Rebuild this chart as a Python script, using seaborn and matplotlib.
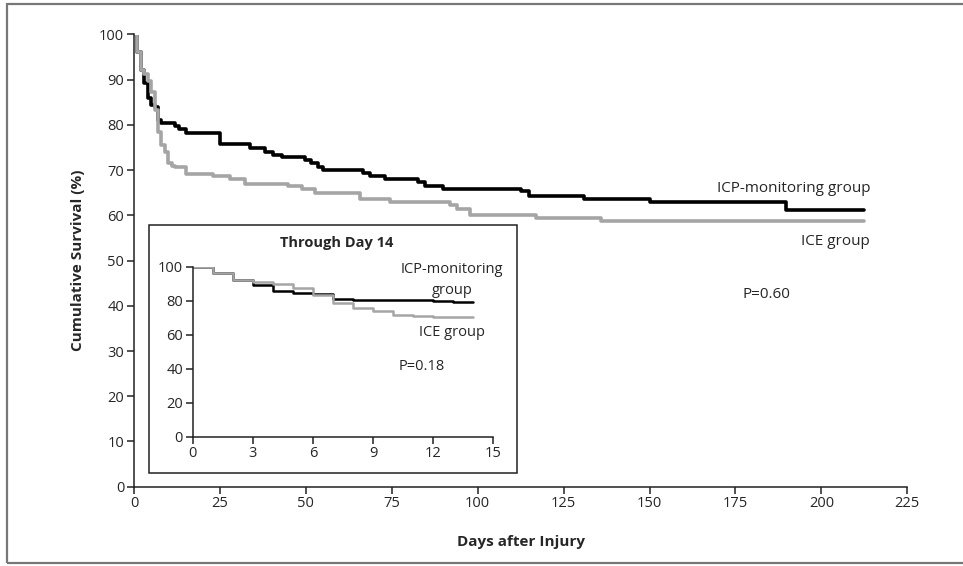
import matplotlib
matplotlib.use("Agg")
import matplotlib.pyplot as plt
from matplotlib.patches import Rectangle
import seaborn as sns
import pandas as pd

# ---- data ----
icp_days = [0, 1, 2, 3, 4, 5, 6, 7, 8, 12, 13, 15, 25, 33.7, 38, 40.5, 43, 49.7, 51.6,
            53.5, 55, 66.6, 68.6, 73, 82.6, 84.6, 90, 112.7, 115, 131, 150, 189.7, 212.5]
icp_surv = [100, 96.1, 92.2, 89.2, 85.9, 84.3, 83.9, 81.0, 80.4, 79.8, 79.2, 78.3, 75.8, 75.0,
            74.1, 73.4, 72.9, 72.3, 71.5, 70.8, 70.1, 69.3, 68.7, 68.0, 67.3, 66.6, 65.8, 65.3,
            64.3, 63.6, 62.9, 61.3, 61.3]
ice_days = [0, 1, 2, 3, 4, 5, 6, 7, 8, 9, 10, 11, 12, 15, 23, 28, 32.3, 44.8, 49, 52.6,
            65.7, 74.4, 91.9, 94, 97.7, 117, 136, 212.5]
ice_surv = [100, 96.1, 92.2, 91.2, 89.8, 87.3, 83.3, 78.4, 75.5, 74.1, 71.6, 71.0, 70.6,
            69.2, 68.6, 68.0, 66.9, 66.4, 65.8, 64.9, 63.6, 63.0, 62.2, 61.4, 60.1, 59.4,
            58.8, 58.8]
groups = ["ICP-monitoring group", "ICE group"]
main_xticks = [0, 25, 50, 75, 100, 125, 150, 175, 200, 225]
main_yticks = [0, 10, 20, 30, 40, 50, 60, 70, 80, 90, 100]
inset_xticks = [0, 3, 6, 9, 12, 15]
inset_yticks = [0, 20, 40, 60, 80, 100]
inset_end = 14

df = pd.concat([
    pd.DataFrame({"day": icp_days, "surv": icp_surv, "group": groups[0]}),
    pd.DataFrame({"day": ice_days, "surv": ice_surv, "group": groups[1]}),
], ignore_index=True)

def truncate(days, surv, end):
    d = [x for x in days if x <= end]
    s = surv[:len(d)]
    return d + [end], s + [s[-1]]

d1, s1 = truncate(icp_days, icp_surv, inset_end)
d2, s2 = truncate(ice_days, ice_surv, inset_end)
df_in = pd.concat([
    pd.DataFrame({"day": d1, "surv": s1, "group": groups[0]}),
    pd.DataFrame({"day": d2, "surv": s2, "group": groups[1]}),
], ignore_index=True)

sns.set_theme(style="white")
plt.rcParams["font.family"] = ["Open Sans", "DejaVu Sans"]
palette = {groups[0]: "#000000", groups[1]: "#a5a5a5"}

fig = plt.figure(figsize=(9.63, 5.66), dpi=100)
fig.patch.set_facecolor("white")

fx = lambda px: px / 963
fy = lambda py: (566 - py) / 566

# outer border
fig.patches.append(Rectangle((fx(7), fy(563)), 1.0, (563 - 4) / 566,
                             transform=fig.transFigure, fill=False,
                             edgecolor="#777777", linewidth=1.6, zorder=0))

ax = fig.add_axes([fx(134), fy(486.7), (907.3 - 134) / 963, (486.7 - 34.5) / 566])
ax.set_facecolor("none")
sns.lineplot(data=df, x="day", y="surv", hue="group", palette=palette, ax=ax,
             estimator=None, sort=False, drawstyle="steps-post", linewidth=2.6,
             legend=False, hue_order=groups)
ax.set_xlim(0, 225)
ax.set_ylim(0, 100)
ax.set_xticks(main_xticks)
ax.set_yticks(main_yticks)
for s in ["top", "right"]:
    ax.spines[s].set_visible(False)
for s in ["left", "bottom"]:
    ax.spines[s].set_color("#222222")
    ax.spines[s].set_linewidth(1.1)
ax.tick_params(direction="out", length=5, width=1.1, color="#222222",
               labelsize=10.5, pad=2, left=True, bottom=True)
ax.set_xlabel("Days after Injury", fontsize=11, fontweight="bold")
ax.set_ylabel("Cumulative Survival (%)", fontsize=11, fontweight="bold", labelpad=10)
ax.xaxis.set_label_coords((520.7 - 134) / (907.3 - 134), -(535 - 486.7) / (486.7 - 34.5))

fig.text(fx(870), fy(188), "ICP-monitoring group", fontsize=11, ha="right", va="center")
fig.text(fx(870), fy(241.5), "ICE group", fontsize=11, ha="right", va="center")
fig.text(fx(766), fy(295), "P=0.60", fontsize=11, ha="center", va="center")

# inset frame
fig.patches.append(Rectangle((fx(149), fy(472.7)), (517.3 - 149) / 963, (472.7 - 225) / 566,
                             transform=fig.transFigure, facecolor="white",
                             edgecolor="#222222", linewidth=1.1, zorder=1))

ax2 = fig.add_axes([fx(192.7), fy(436.7), (493.3 - 192.7) / 963, (436.7 - 266.7) / 566])
ax2.set_zorder(2)
ax2.set_facecolor("none")
sns.lineplot(data=df_in, x="day", y="surv", hue="group", palette=palette, ax=ax2,
             estimator=None, sort=False, drawstyle="steps-post", linewidth=1.8,
             legend=False, hue_order=groups)
ax2.set_xlim(0, 15)
ax2.set_ylim(0, 100)
ax2.set_xticks(inset_xticks)
ax2.set_yticks(inset_yticks)
for s in ["top", "right"]:
    ax2.spines[s].set_visible(False)
for s in ["left", "bottom"]:
    ax2.spines[s].set_color("#222222")
    ax2.spines[s].set_linewidth(1.1)
ax2.tick_params(direction="out", length=5, width=1.1, color="#222222",
                labelsize=10.5, pad=2, left=True, bottom=True)
ax2.set_xlabel("")
ax2.set_ylabel("")

fig.text(fx(336.7), fy(243.5), "Through Day 14", fontsize=10.5, fontweight="bold",
         ha="center", va="center", zorder=3)
fig.text(fx(451.7), fy(270), "ICP-monitoring", fontsize=10.5, ha="center", va="center", zorder=3)
fig.text(fx(451.7), fy(290), "group", fontsize=10.5, ha="center", va="center", zorder=3)
fig.text(fx(451.7), fy(333), "ICE group", fontsize=10.5, ha="center", va="center", zorder=3)
fig.text(fx(421.7), fy(366.7), "P=0.18", fontsize=10.5, ha="center", va="center", zorder=3)

fig.savefig("out.png", dpi=100)
